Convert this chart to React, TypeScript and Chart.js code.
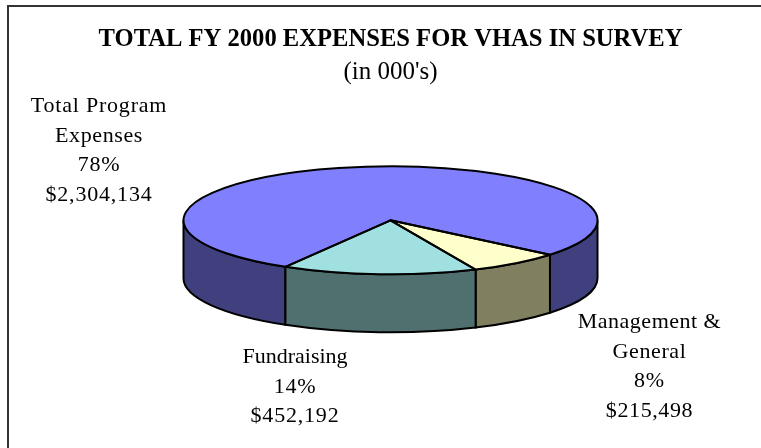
import React, { useEffect, useRef } from "react";
import { Chart, registerables } from "chart.js";

Chart.register(...registerables);

const categories = ["Total Program Expenses", "Management & General", "Fundraising"];
const expenses = [2304134, 215498, 452192];
const topColors = ["#8080FF", "#FFFFCC", "#A0E0E0"];
const sideColors = ["#40407F", "#808060", "#507070"];
const labelLines = [
  ["Total Program", "Expenses", "78%", "$2,304,134"],
  ["Management &", "General", "8%", "$215,498"],
  ["Fundraising", "14%", "$452,192"],
];
const titleText = "TOTAL FY 2000 EXPENSES FOR VHAS IN SURVEY";
const subtitleText = "(in 000's)";

const FONT = '"Liberation Serif", "Times New Roman", serif';
const labelBoxes = [
  { x: 99, y: 106 },
  { x: 649.5, y: 322 },
  { x: 295, y: 357 },
];
const labelTracking = [
  [0.8, 0.6, 0.8, 0.8],
  [0.5, 0.6, 0.8, 0.6],
  [0, 0.8, 0.8],
];
const RX = 207;
const RY = 54;
const DEPTH = 58;
const LINE = 29.8;
const STROKE = 2;

const pie3d = {
  id: "pie3d",
  beforeDatasetsDraw(chart: any) {
    const ctx = chart.ctx;
    const arcs = chart.getDatasetMeta(0).data;
    const { x: cx, y: cy, outerRadius: r } = arcs[0];
    ctx.save();
    ctx.lineWidth = STROKE;
    ctx.strokeStyle = "#000";
    const wall = (a: number, b: number, color: string) => {
      ctx.beginPath();
      ctx.ellipse(cx, cy, RX, RY, 0, a, b, false);
      ctx.ellipse(cx, cy + DEPTH, RX, RY, 0, b, a, true);
      ctx.closePath();
      ctx.fillStyle = color;
      ctx.fill();
      ctx.stroke();
    };
    arcs.forEach((arc: any, i: number) => {
      const tau = Math.PI * 2;
      let s = arc.startAngle % tau;
      if (s < 0) s += tau;
      const e = s + (arc.endAngle - arc.startAngle);
      for (const off of [0, tau]) {
        const a = Math.max(s, off);
        const b = Math.min(e, off + Math.PI);
        if (b > a) wall(a, b, sideColors[i]);
      }
    });
    ctx.restore();
    ctx.save();
    ctx.translate(cx, cy);
    ctx.scale(RX / r, RY / r);
    ctx.translate(-cx, -cy);
  },
  afterDatasetsDraw(chart: any) {
    const ctx = chart.ctx;
    ctx.restore();
    const arcs = chart.getDatasetMeta(0).data;
    ctx.save();
    ctx.lineWidth = STROKE;
    ctx.strokeStyle = "#000";
    ctx.lineJoin = "round";
    arcs.forEach((arc: any) => {
      ctx.beginPath();
      ctx.moveTo(arc.x, arc.y);
      ctx.ellipse(arc.x, arc.y, RX, RY, 0, arc.startAngle, arc.endAngle, false);
      ctx.closePath();
      ctx.stroke();
    });
    ctx.restore();
    ctx.save();
    ctx.fillStyle = "#000";
    ctx.font = `22px ${FONT}`;
    ctx.textAlign = "center";
    ctx.textBaseline = "middle";
    labelLines.forEach((lines, i) => {
      lines.forEach((t, j) => {
        (ctx as any).letterSpacing = `${labelTracking[i][j]}px`;
        ctx.fillText(t, labelBoxes[i].x, labelBoxes[i].y + j * LINE);
      });
    });
    ctx.restore();
  },
};

export default function App() {
  const ref = useRef<HTMLCanvasElement>(null);
  useEffect(() => {
    const chart = new Chart(ref.current!, {
      type: "pie",
      data: {
        labels: categories,
        datasets: [
          {
            data: expenses,
            backgroundColor: topColors,
            borderWidth: 0,
          },
        ],
      },
      options: {
        animation: false,
        responsive: false,
        rotation: 210.5,
        layout: { padding: { left: 20, right: 0, top: 0, bottom: 101 } },
        plugins: {
          legend: { display: false },
          tooltip: { enabled: false },
          title: {
            display: true,
            text: titleText,
            color: "#000",
            font: { family: FONT, size: 24.6, weight: "bold" },
            padding: { top: 24.5, bottom: 3.6 },
          },
          subtitle: {
            display: true,
            text: subtitleText,
            color: "#000",
            font: { family: FONT, size: 25, weight: "normal" },
            padding: { top: 0, bottom: 6 },
          },
        },
      },
      plugins: [pie3d],
    });
    return () => chart.destroy();
  }, []);
  return (
    <div style={{ position: "absolute", left: 0, top: 0, width: 761, height: 448, background: "#fff", overflow: "hidden" }}>
      <div style={{ position: "absolute", left: 7, top: 5, width: 760, height: 460, borderLeft: "2px solid #333", borderTop: "2px solid #333", boxSizing: "border-box" }} />
      <canvas ref={ref} width={761} height={448} style={{ position: "absolute", left: 0, top: 0, display: "block" }} />
    </div>
  );
}
